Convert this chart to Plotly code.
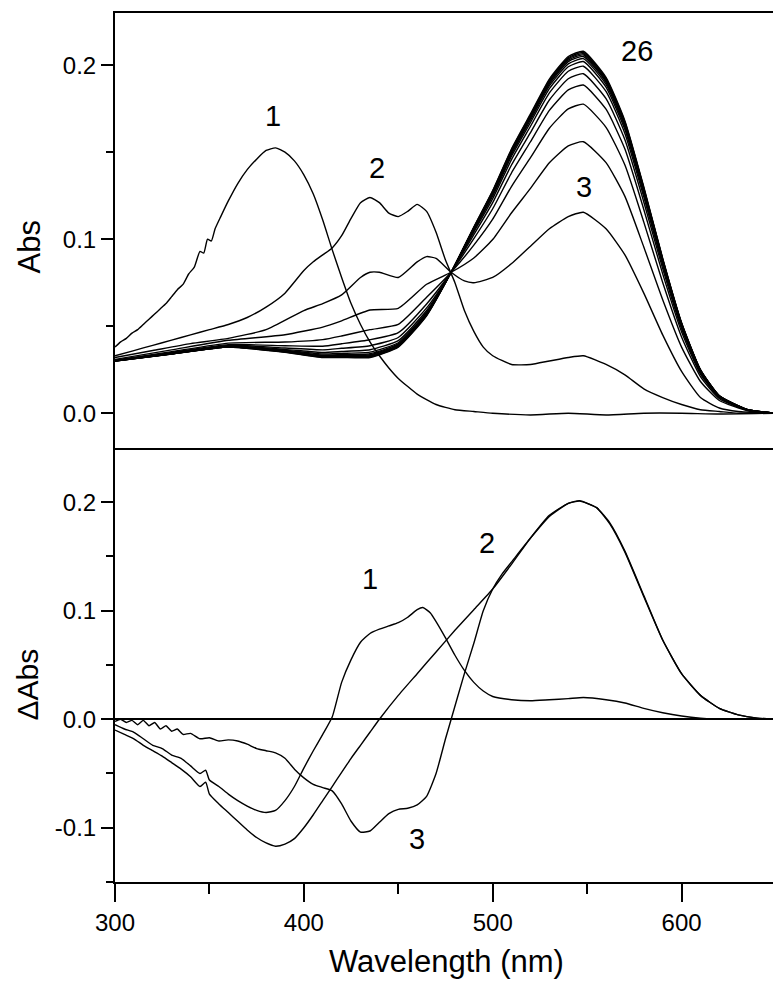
import plotly.graph_objects as go

# ---------------- top panel: absorbance spectra (Abs) ----------------
wl_s1 = [300, 303, 306, 309, 312, 315, 318, 321, 324, 327, 330, 333, 336, 339, 342, 345, 347, 349, 351, 353,
         356, 360, 365, 370, 375, 380, 385, 390, 395, 400, 405, 410, 415, 420, 425, 430, 435, 440, 445, 450,
         460, 470, 480, 490, 500, 520, 540, 560, 580, 600, 620, 650]
abs_s1 = [0.038, 0.041, 0.043, 0.046, 0.048, 0.051, 0.054, 0.057, 0.060, 0.063, 0.067, 0.071, 0.074, 0.080, 0.084,
          0.093, 0.092, 0.100, 0.099, 0.106, 0.113, 0.122, 0.132, 0.140, 0.146, 0.151, 0.1525, 0.150, 0.145, 0.137,
          0.126, 0.111, 0.094, 0.078, 0.063, 0.051, 0.041, 0.033, 0.026, 0.020, 0.011, 0.005, 0.002, 0.001, 0.000,
          -0.001, 0.000, -0.001, 0.000, 0.000, -0.0005, 0.0]

wl_s2 = [300, 310, 320, 330, 340, 350, 360, 370, 380, 390, 400, 405, 410, 415, 420, 425, 430, 435, 440, 445,
         450, 455, 460, 465, 470, 475, 480, 485, 490, 495, 500, 510, 520, 530, 540, 548, 560, 570, 580, 590,
         600, 610, 620, 630, 650]
abs_s2 = [0.033, 0.036, 0.039, 0.042, 0.045, 0.048, 0.051, 0.055, 0.061, 0.069, 0.082, 0.087, 0.091, 0.095, 0.102,
          0.112, 0.121, 0.124, 0.121, 0.115, 0.113, 0.116, 0.120, 0.116, 0.104, 0.088, 0.075, 0.059, 0.047, 0.038,
          0.033, 0.028, 0.028, 0.030, 0.032, 0.033, 0.028, 0.022, 0.014, 0.009, 0.005, 0.002, 0.001, 0.0, 0.0]

wl_s3 = [300, 320, 340, 360, 380, 400, 410, 420, 430, 435, 440, 450, 460, 465, 470, 478, 485, 490, 500, 510,
         520, 530, 540, 548, 560, 570, 580, 590, 600, 610, 620, 630, 650]
abs_s3 = [0.032, 0.036, 0.040, 0.043, 0.048, 0.059, 0.063, 0.068, 0.078, 0.081, 0.081, 0.078, 0.087, 0.090, 0.089,
          0.081, 0.076, 0.075, 0.078, 0.086, 0.096, 0.106, 0.113, 0.1155, 0.106, 0.091, 0.069, 0.045, 0.024, 0.009,
          0.003, 0.001, 0.0]

# later spectra (4 ... 26) read on a common wavelength grid
wl_grid = [300, 330, 360, 390, 410, 420, 435, 450, 465, 478, 490, 500, 510, 520, 530, 540, 548, 560, 570, 580,
           590, 600, 610, 620, 635, 650]
abs_s4 = [0.0309, 0.0364, 0.0419, 0.0451, 0.0495, 0.0531, 0.0593, 0.0603, 0.0741, 0.0810, 0.0892, 0.0998, 0.1152,
          0.1292, 0.1439, 0.1536, 0.1560, 0.1440, 0.1246, 0.0955, 0.0652, 0.0380, 0.0182, 0.0073, 0.0014, 0.0]
abs_s5 = [0.0305, 0.0354, 0.0403, 0.0409, 0.0423, 0.0444, 0.0480, 0.0510, 0.0666, 0.0810, 0.0966, 0.1115, 0.1304,
          0.1469, 0.1638, 0.1749, 0.1776, 0.1643, 0.1426, 0.1098, 0.0751, 0.0438, 0.0210, 0.0084, 0.0017, 0.0]
abs_s6 = [0.0303, 0.0349, 0.0394, 0.0388, 0.0385, 0.0399, 0.0422, 0.0463, 0.0628, 0.0810, 0.1003, 0.1175, 0.1382,
          0.1560, 0.1740, 0.1858, 0.1886, 0.1747, 0.1518, 0.1171, 0.0801, 0.0468, 0.0224, 0.0090, 0.0018, 0.0]
abs_s7 = [0.0302, 0.0346, 0.0390, 0.0375, 0.0364, 0.0373, 0.0388, 0.0435, 0.0605, 0.0810, 0.1026, 0.1210, 0.1428,
          0.1613, 0.1800, 0.1922, 0.1951, 0.1808, 0.1572, 0.1214, 0.0831, 0.0485, 0.0233, 0.0093, 0.0019, 0.0]
abs_s8 = [0.0301, 0.0344, 0.0386, 0.0367, 0.0349, 0.0355, 0.0365, 0.0417, 0.0590, 0.0810, 0.1041, 0.1233, 0.1459,
          0.1649, 0.1841, 0.1965, 0.1994, 0.1849, 0.1608, 0.1243, 0.0851, 0.0497, 0.0239, 0.0096, 0.0019, 0.0]
abs_s9 = [0.0301, 0.0343, 0.0384, 0.0362, 0.0340, 0.0344, 0.0351, 0.0405, 0.0581, 0.0810, 0.1050, 0.1248, 0.1478,
          0.1671, 0.1865, 0.1991, 0.2021, 0.1874, 0.1630, 0.1261, 0.0863, 0.0504, 0.0242, 0.0097, 0.0019, 0.0]
abs_s10 = [0.0301, 0.0342, 0.0383, 0.0358, 0.0334, 0.0337, 0.0342, 0.0398, 0.0575, 0.0810, 0.1056, 0.1257, 0.1490,
           0.1685, 0.1881, 0.2008, 0.2038, 0.1890, 0.1645, 0.1272, 0.0871, 0.0509, 0.0244, 0.0098, 0.0020, 0.0]
abs_s12 = [0.0301, 0.0341, 0.0382, 0.0356, 0.0330, 0.0332, 0.0336, 0.0393, 0.0570, 0.0810, 0.1060, 0.1264, 0.1499,
           0.1696, 0.1892, 0.2021, 0.2050, 0.1902, 0.1655, 0.1280, 0.0876, 0.0512, 0.0246, 0.0098, 0.0020, 0.0]
abs_s15 = [0.0300, 0.0341, 0.0382, 0.0354, 0.0327, 0.0329, 0.0331, 0.0389, 0.0567, 0.0810, 0.1063, 0.1269, 0.1505,
           0.1703, 0.1901, 0.2029, 0.2059, 0.1910, 0.1662, 0.1286, 0.0880, 0.0514, 0.0247, 0.0099, 0.0020, 0.0]
abs_s19 = [0.0300, 0.0341, 0.0381, 0.0353, 0.0325, 0.0326, 0.0327, 0.0386, 0.0565, 0.0810, 0.1065, 0.1272, 0.1510,
           0.1708, 0.1907, 0.2036, 0.2066, 0.1917, 0.1668, 0.1291, 0.0884, 0.0516, 0.0248, 0.0099, 0.0020, 0.0]
abs_s22 = [0.0300, 0.0340, 0.0380, 0.0351, 0.0322, 0.0323, 0.0324, 0.0383, 0.0562, 0.0810, 0.1068, 0.1276, 0.1515,
           0.1714, 0.1914, 0.2043, 0.2073, 0.1923, 0.1674, 0.1295, 0.0887, 0.0518, 0.0249, 0.0100, 0.0020, 0.0]
abs_s26 = [0.030, 0.034, 0.038, 0.035, 0.032, 0.032, 0.032, 0.038, 0.056, 0.081, 0.107, 0.128, 0.152, 0.172, 0.192,
           0.205, 0.208, 0.193, 0.168, 0.130, 0.089, 0.052, 0.025, 0.010, 0.002, 0.000]

# ---------------- bottom panel: difference spectra (ΔAbs) ----------------
wl_d1 = [300, 305, 310, 315, 320, 325, 330, 335, 340, 345, 348, 350, 355, 360, 365, 370, 375, 380, 385, 390,
         395, 400, 405, 410, 415, 420, 425, 430, 435, 440, 445, 450, 455, 460, 463, 467, 470, 475, 480, 485,
         490, 495, 500, 510, 520, 530, 540, 548, 560, 570, 580, 590, 600, 610, 620, 650]
dabs_d1 = [-0.005, -0.009, -0.012, -0.018, -0.024, -0.027, -0.033, -0.036, -0.043, -0.050, -0.047, -0.056, -0.062,
           -0.069, -0.075, -0.080, -0.084, -0.086, -0.084, -0.075, -0.062, -0.045, -0.029, -0.014, 0.002, 0.034,
           0.055, 0.071, 0.079, 0.083, 0.086, 0.089, 0.094, 0.101, 0.103, 0.098, 0.090, 0.075, 0.059, 0.045, 0.034,
           0.026, 0.021, 0.018, 0.017, 0.018, 0.019, 0.020, 0.018, 0.015, 0.010, 0.006, 0.003, 0.001, 0.0, 0.0]

wl_d2 = [300, 305, 310, 315, 320, 325, 330, 335, 340, 345, 348, 350, 355, 360, 365, 370, 375, 380, 385, 390,
         395, 400, 405, 410, 415, 420, 425, 430, 435, 440, 450, 460, 470, 480, 490, 500, 510, 520, 530, 540,
         546, 555, 562, 570, 580, 590, 600, 610, 620, 630, 640, 650]
dabs_d2 = [-0.010, -0.014, -0.018, -0.024, -0.029, -0.034, -0.040, -0.046, -0.053, -0.062, -0.058, -0.069, -0.078,
           -0.086, -0.094, -0.102, -0.109, -0.114, -0.117, -0.115, -0.110, -0.100, -0.088, -0.075, -0.062, -0.049,
           -0.036, -0.024, -0.012, 0.000, 0.022, 0.042, 0.062, 0.082, 0.101, 0.120, 0.143, 0.167, 0.188, 0.199,
           0.201, 0.195, 0.180, 0.154, 0.113, 0.073, 0.042, 0.022, 0.010, 0.004, 0.001, 0.0]

wl_d3 = [300, 303, 306, 309, 312, 315, 318, 321, 324, 327, 330, 333, 336, 340, 345, 350, 355, 360, 365, 370,
         375, 380, 385, 390, 395, 400, 405, 410, 415, 420, 425, 430, 435, 440, 445, 450, 455, 460, 465, 470,
         475, 478, 485, 490, 495, 500, 505, 510, 520, 530, 540, 546, 555, 562, 570, 580, 590, 600, 610, 620,
         630, 640, 650]
dabs_d3 = [-0.002, 0.000, -0.003, -0.001, -0.005, -0.001, -0.006, -0.003, -0.009, -0.006, -0.011, -0.009, -0.014,
           -0.013, -0.018, -0.017, -0.020, -0.019, -0.020, -0.023, -0.027, -0.029, -0.031, -0.036, -0.046, -0.054,
           -0.060, -0.063, -0.066, -0.078, -0.094, -0.104, -0.103, -0.095, -0.087, -0.083, -0.082, -0.079, -0.071,
           -0.050, -0.018, 0.000, 0.042, 0.070, 0.100, 0.120, 0.134, 0.145, 0.167, 0.187, 0.199, 0.2015, 0.195,
           0.181, 0.155, 0.114, 0.073, 0.042, 0.022, 0.010, 0.004, 0.001, 0.0]

# curve labels (text, wavelength, value)
top_labels = [("1", 383.7, 0.171), ("2", 438.7, 0.141), ("3", 548.3, 0.130), ("26", 576.4, 0.208)]
bottom_labels = [("1", 435.0, 0.1295), ("2", 497.0, 0.162), ("3", 459.9, -0.110)]

x_ticks = [300, 400, 500, 600]
top_y_ticks = [0.0, 0.1, 0.2]
bottom_y_ticks = [-0.1, 0.0, 0.1, 0.2]

# ---------------- figure ----------------
FONT = "Liberation Sans, Arial, Helvetica, sans-serif"
fig = go.Figure()

top_series = [(wl_s1, abs_s1), (wl_s2, abs_s2), (wl_s3, abs_s3)] + [
    (wl_grid, s) for s in (abs_s4, abs_s5, abs_s6, abs_s7, abs_s8, abs_s9, abs_s10,
                           abs_s12, abs_s15, abs_s19, abs_s22, abs_s26)]
for wl, ab in top_series:
    fig.add_trace(go.Scatter(x=wl, y=ab, mode="lines", xaxis="x", yaxis="y",
                             line=dict(color="black", width=1.4, shape="spline", smoothing=0.5),
                             showlegend=False, hoverinfo="skip"))

for wl, d in [(wl_d1, dabs_d1), (wl_d2, dabs_d2), (wl_d3, dabs_d3)]:
    fig.add_trace(go.Scatter(x=wl, y=d, mode="lines", xaxis="x2", yaxis="y2",
                             line=dict(color="black", width=1.4, shape="spline", smoothing=0.5),
                             showlegend=False, hoverinfo="skip"))


def frame(**kw):
    base = dict(showline=True, linecolor="black", linewidth=2, mirror=True,
                showgrid=False, zeroline=False, tickcolor="black", tickwidth=2,
                tickfont=dict(family=FONT, size=24, color="black"))
    base.update(kw)
    return base


# the page body adds an 8 px offset; figure is sized so the plot box lands at x 115-776, y 11-882
W, H = 773, 977
L, T, R, B = 107, 3, 5, 103
PW, PH = W - L - R, H - T - B
split = (PH - 436) / float(PH)

fig.update_layout(
    width=W, height=H,
    margin=dict(l=L, r=R, t=T, b=B),
    paper_bgcolor="white", plot_bgcolor="white",
    showlegend=False,
    font=dict(family=FONT, size=24, color="black"),
    xaxis=frame(domain=[0, 1], anchor="y", range=[300, 650], showticklabels=False, ticks=""),
    yaxis=frame(domain=[split, 1], anchor="x", range=[-0.02, 0.23],
                tickmode="array", tickvals=top_y_ticks,
                ticktext=["%.1f" % v for v in top_y_ticks],
                ticks="outside", ticklen=12,
                minor=dict(tickmode="array", tickvals=[0.05, 0.15], ticks="outside",
                           ticklen=7, tickwidth=2, tickcolor="black")),
    xaxis2=frame(domain=[0, 1], anchor="y2", range=[300, 650], mirror=False,
                 tickmode="array", tickvals=x_ticks, ticktext=[str(v) for v in x_ticks],
                 ticks="outside", ticklen=18,
                 minor=dict(tickmode="array", tickvals=[350, 450, 550, 650], ticks="outside",
                            ticklen=10, tickwidth=2, tickcolor="black")),
    yaxis2=frame(domain=[0, split], anchor="x2", range=[-0.15, 0.25],
                 tickmode="array", tickvals=bottom_y_ticks,
                 ticktext=["%.1f" % v for v in bottom_y_ticks],
                 ticks="outside", ticklen=12,
                 zeroline=True, zerolinecolor="black", zerolinewidth=2.2,
                 minor=dict(tickmode="array", tickvals=[-0.15, -0.05, 0.05, 0.15], ticks="outside",
                            ticklen=7, tickwidth=2, tickcolor="black")),
)


def px_x(px):   # page pixel -> paper x
    return (px - 8 - L) / float(PW)


def px_y(py):   # page pixel -> paper y
    return (H - B - (py - 8)) / float(PH)


ann = []
for t, x, y in top_labels:
    ann.append(dict(text=t, x=x, y=y, xref="x", yref="y", showarrow=False,
                    font=dict(family=FONT, size=29, color="black"), xanchor="center", yanchor="middle"))
for t, x, y in bottom_labels:
    ann.append(dict(text=t, x=x, y=y, xref="x2", yref="y2", showarrow=False,
                    font=dict(family=FONT, size=29, color="black"), xanchor="center", yanchor="middle"))
# axis titles
ann.append(dict(text="Abs", x=px_x(29), y=px_y(246), xref="paper", yref="paper",
                textangle=-90, showarrow=False, xanchor="center", yanchor="middle",
                font=dict(family=FONT, size=31, color="black")))
ann.append(dict(text="ΔAbs", x=px_x(27), y=px_y(684), xref="paper", yref="paper",
                textangle=-90, showarrow=False, xanchor="center", yanchor="middle",
                font=dict(family=FONT, size=30, color="black")))
ann.append(dict(text="Wavelength (nm)", x=px_x(446), y=px_y(962), xref="paper", yref="paper",
                showarrow=False, xanchor="center", yanchor="middle",
                font=dict(family=FONT, size=31, color="black")))
fig.update_layout(annotations=ann)

fig.write_html("out.html")
